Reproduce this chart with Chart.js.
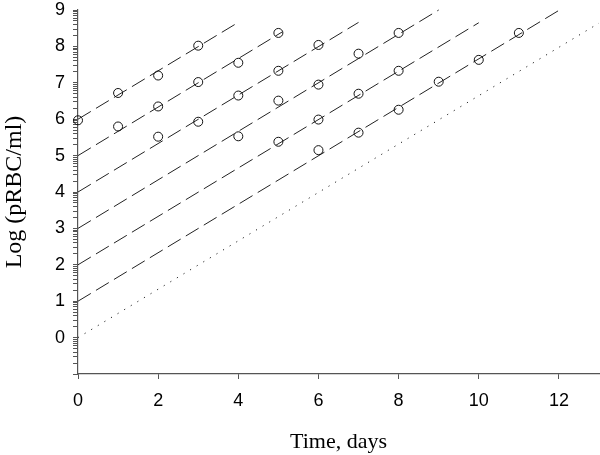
<!DOCTYPE html>
<html>
<head>
<meta charset="utf-8">
<script src="https://cdn.jsdelivr.net/npm/chart.js@4/dist/chart.umd.min.js"></script>
<style>
  html, body { margin: 0; padding: 0; background: #fff; }
  #wrap { width: 600px; height: 455px; }
</style>
</head>
<body>
<div id="wrap"><canvas id="c" width="600" height="455"></canvas></div>
<script>
// Observed data (log pRBC/ml vs day) for six groups
const s1x = [0, 1, 2, 3];            const s1y = [5.97, 6.72, 7.20, 8.02];
const s2x = [1, 2, 3, 4, 5];         const s2y = [5.80, 6.35, 7.02, 7.55, 8.37];
const s3x = [2, 3, 4, 5, 6];         const s3y = [5.52, 5.93, 6.65, 7.33, 8.04];
const s4x = [4, 5, 6, 7, 8];         const s4y = [5.53, 6.51, 6.95, 7.80, 8.37];
const s5x = [5, 6, 7, 8];            const s5y = [5.38, 5.99, 6.70, 7.33];
const s6x = [6, 7, 8, 9, 10, 11];    const s6y = [5.15, 5.63, 6.26, 7.03, 7.63, 8.37];

// Fitted growth lines: start and end points
const fitX0 = [0, 0, 0, 0, 0, 0];
const fitY0 = [6, 5, 4, 3, 2, 1];
const fitX1 = [4, 5.1, 7, 9, 10, 12];
const fitY1 = [8.66, 8.40, 8.66, 9.00, 8.65, 8.99];
// Dotted reference line
const refX = [0, 13];
const refY = [0, 8.64];

const xTicks = [0, 2, 4, 6, 8, 10, 12];
const yMajor = [0, 1, 2, 3, 4, 5, 6, 7, 8, 9];

const pts = (xs, ys) => xs.map((x, i) => ({ x: x, y: ys[i] }));

const datasets = [];
for (let i = 0; i < fitX0.length; i++) {
  datasets.push({
    data: [{ x: fitX0[i], y: fitY0[i] }, { x: fitX1[i], y: fitY1[i] }],
    showLine: true, borderColor: '#222', borderWidth: 1, borderDash: [15, 6],
    pointRadius: 0, clip: false, order: 2
  });
}
datasets.push({
  data: pts(refX, refY), showLine: true, borderColor: '#222', borderWidth: 1,
  borderDash: [1.2, 6.5], pointRadius: 0, clip: false, order: 2
});
[[s1x, s1y], [s2x, s2y], [s3x, s3y], [s4x, s4y], [s5x, s5y], [s6x, s6y]].forEach(([xs, ys]) => {
  datasets.push({
    data: pts(xs, ys), showLine: false, pointRadius: 4.5, pointBorderWidth: 1,
    pointBorderColor: '#111', pointBackgroundColor: 'rgba(255,255,255,0)',
    clip: false, order: 1
  });
});

// y minor ticks at n + log10(k)
function yTickValues() {
  const v = [];
  for (let n = -1; n < 9; n++) {
    for (let k = 1; k <= 9; k++) v.push(+(n + Math.log10(k)).toFixed(5));
  }
  v.push(9);
  return v;
}

new Chart(document.getElementById('c'), {
  type: 'scatter',
  data: { datasets: datasets },
  options: {
    responsive: false, animation: false,
    layout: { autoPadding: false, padding: { top: 10, right: 1, left: 0, bottom: 0 } },
    plugins: { legend: { display: false }, tooltip: { enabled: false } },
    scales: {
      x: {
        type: 'linear', min: 0, max: 13,
        afterBuildTicks: s => { s.ticks = xTicks.map(v => ({ value: v })); },
        afterFit: s => { s.height = 81; s.paddingLeft = 0; s.paddingRight = 0; },
        grid: { drawOnChartArea: false, tickLength: 5, color: '#555', tickColor: '#555' },
        border: { color: '#555', width: 1.2 },
        ticks: { color: '#000', padding: 11, maxRotation: 0,
                 font: { family: 'Liberation Sans, Arial', size: 18 } },
        title: { display: true, text: 'Time, days', color: '#000',
                 font: { family: 'Liberation Serif, Times New Roman', size: 22 },
                 padding: { top: 12, bottom: 0 } }
      },
      y: {
        type: 'linear', min: -1, max: 9,
        afterBuildTicks: s => { s.ticks = yTickValues().map(v => ({ value: v })); },
        afterFit: s => { s.width = 78; s.paddingTop = 0; s.paddingBottom = 0; },
        grid: { drawOnChartArea: false, tickLength: 5, color: '#555', tickColor: '#555' },
        border: { color: '#555', width: 1.2 },
        ticks: {
          color: '#000', padding: 8, autoSkip: false,
          font: { family: 'Liberation Sans, Arial', size: 18 },
          callback: v => (Math.abs(v - Math.round(v)) < 1e-6 && yMajor.includes(Math.round(v))) ? String(Math.round(v)) : ''
        },
        title: { display: true, text: 'Log (pRBC/ml)', color: '#000',
                 font: { family: 'Liberation Serif, Times New Roman', size: 24 },
                 padding: { top: 0, bottom: 0 } }
      }
    }
  }
});
</script>
</body>
</html>
